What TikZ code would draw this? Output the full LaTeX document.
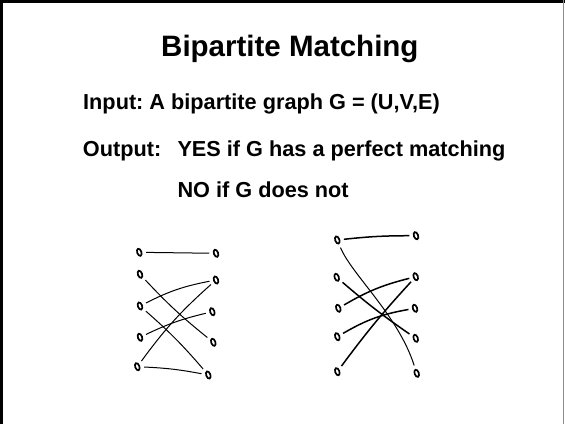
\documentclass[tikz,border=0pt]{standalone}
\usepackage{fontspec}
\setmainfont{Liberation Sans}
\usetikzlibrary{shapes.geometric}
\begin{document}
\frenchspacing
\begin{tikzpicture}[x=1pt,y=-1pt,
  vtx/.style={ellipse,draw,line width=1.7pt,inner sep=0pt,minimum width=4.2pt,minimum height=7.5pt,rotate=20,outer sep=4.5pt},
  edgeA/.style={line width=1pt},
  edgeB/.style={line width=1.5pt},
  title/.style={anchor=base west,inner sep=0pt,font=\fontsize{29.5}{34}\selectfont\bfseries},
  body/.style={anchor=base west,inner sep=0pt,font=\fontsize{21.7}{26}\selectfont\bfseries}]
\useasboundingbox (0,0) rectangle (565,424);
\fill[white] (0,0) rectangle (565,424);
% frame
\draw[line width=3pt] (1.5,424) -- (1.5,1.5) -- (565,1.5);
\draw[line width=1.2pt,black!45] (563.8,0) -- (563.8,424);
% texts
\node[title] (t) at (161,56) {Bipartite Matching};
\node[body] (in) at (83,109.3) {Input: A bipartite graph G = (U,V,E)};
\node[body] (out) at (82.7,156.7) {Output:};
\node[body] (yes) at (177.3,156.7) {YES if G has a perfect matching};
\node[body] (no) at (177.3,197.7) {NO if G does not};
% left graph
\node[vtx] (a1) at (139.3,252.3) {};
\node[vtx] (a2) at (140,274.3) {};
\node[vtx] (a3) at (140,306) {};
\node[vtx] (a4) at (140,337.3) {};
\node[vtx] (a5) at (137.3,366.7) {};
\node[vtx] (b1) at (216,253.3) {};
\node[vtx] (b2) at (216,280) {};
\node[vtx] (b3) at (212.3,311.7) {};
\node[vtx] (b4) at (213.3,342.3) {};
\node[vtx] (b5) at (208.3,375) {};
\draw[edgeA] (a1) -- (b1);
\draw[edgeA] (a2) to[bend right=4] (b4);
\draw[edgeA] (a3) to[bend left=8] (b2);
\draw[edgeA] (a3) to[bend left=4] (b5);
\draw[edgeA] (a4) to[bend left=6] (b3);
\draw[edgeA] (a5) to[bend left=6] (b2);
\draw[edgeA] (a5) to[bend left=4] (b5);
% right graph
\node[vtx] (c1) at (337.3,240) {};
\node[vtx] (c2) at (336.7,277.3) {};
\node[vtx] (c3) at (338.3,308.3) {};
\node[vtx] (c4) at (337.3,336.7) {};
\node[vtx] (c5) at (337.3,371.7) {};
\node[vtx] (d1) at (416,235.7) {};
\node[vtx] (d2) at (415.7,276.7) {};
\node[vtx] (d3) at (415,308.3) {};
\node[vtx] (d4) at (415.7,338.3) {};
\node[vtx] (d5) at (416.7,373.3) {};
\draw[edgeB] (c1) to[bend left=3] (d1);
\draw[edgeA] (c1) .. controls (352,275) and (398,315) .. (d5);
\draw[edgeB] (c2) to[bend right=3] (d4);
\draw[edgeB] (c3) to[bend left=8] (d2);
\draw[edgeB] (c4) to[bend left=10] (d3);
\draw[edgeB] (c5) to[bend left=3] (d2);
\end{tikzpicture}
\end{document}
